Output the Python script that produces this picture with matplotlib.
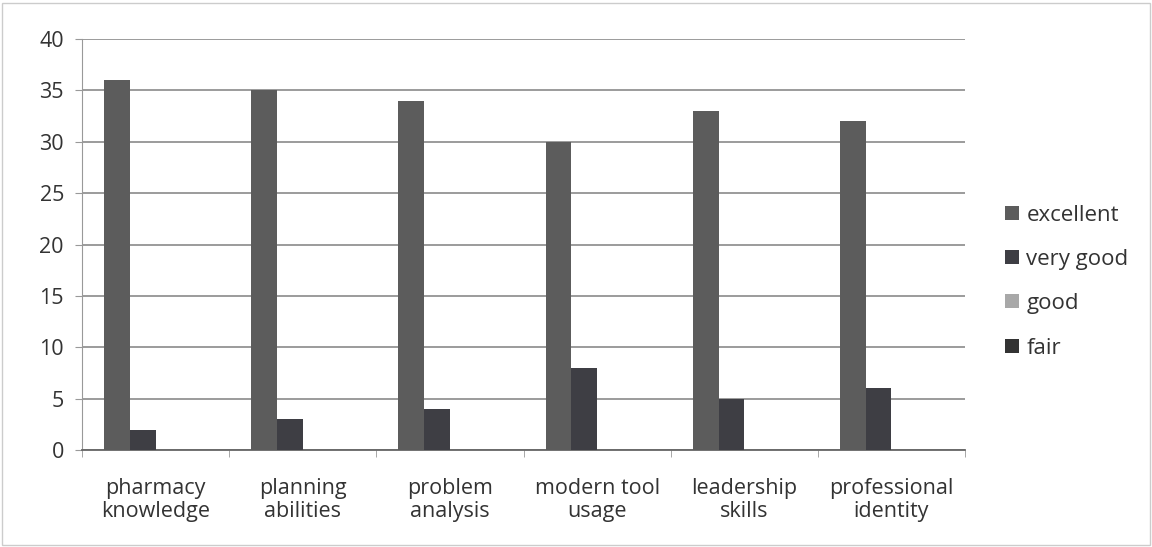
import numpy as np
from matplotlib import pyplot as plt
from matplotlib.patches import Rectangle

categories = ['pharmacy\nknowledge', 'planning\nabilities', 'problem\nanalysis',
              'modern tool\nusage', 'leadership\nskills', 'professional\nidentity']
series = ['excellent', 'very good', 'good', 'fair']
excellent = [36, 35, 34, 30, 33, 32]
very_good = [2, 3, 4, 8, 5, 6]
good = [0, 0, 0, 0, 0, 0]
fair = [0, 0, 0, 0, 0, 0]
values = [excellent, very_good, good, fair]
colors = ['#5c5c5c', '#3e3e44', '#a8a8a8', '#333333']

plt.rcParams['font.family'] = ['Open Sans', 'DejaVu Sans']

fig = plt.figure(figsize=(11.52, 5.47), dpi=100)
ax = fig.add_axes([0.0712, 0.177, 0.7665, 0.752])

x = np.arange(len(categories))
width = 0.175
for i, (name, vals, col) in enumerate(zip(series, values, colors)):
    ax.bar(x + (i - 1.5) * width, vals, width, color=col, label=name, zorder=3)

ax.set_xlim(-0.5, len(categories) - 0.5)
ax.set_ylim(0, 40)
ax.set_yticks(range(0, 41, 5))
ax.yaxis.grid(True, color='#8a8a8a', linewidth=1.2, zorder=0)
ax.set_xticks(x)
ax.set_xticklabels(categories, fontsize=15.5, color='#333333', linespacing=1.1)
ax.set_xticks(np.arange(-0.5, len(categories)), minor=True)
ax.tick_params(axis='x', which='major', length=0, pad=20)
ax.tick_params(axis='x', which='minor', length=5, color='#999999')
ax.tick_params(axis='y', length=5, color='#999999', labelsize=15.5, labelcolor='#333333', pad=8)
for side in ['top', 'right']:
    ax.spines[side].set_visible(False)
ax.spines['left'].set_color('#999999')
ax.spines['bottom'].set_color('#666666')
ax.spines['bottom'].set_linewidth(1.3)

ax.legend(loc='center left', bbox_to_anchor=(1.023, 0.41), frameon=False,
          fontsize=16, handlelength=0.6, handleheight=0.6, handletextpad=0.35,
          labelspacing=1.05, labelcolor='#333333')

fig.patches.append(Rectangle((0.002, 0.004), 0.996, 0.99, transform=fig.transFigure,
                             fill=False, edgecolor='#cccccc', linewidth=1))

fig.savefig('out.png', dpi=100)
